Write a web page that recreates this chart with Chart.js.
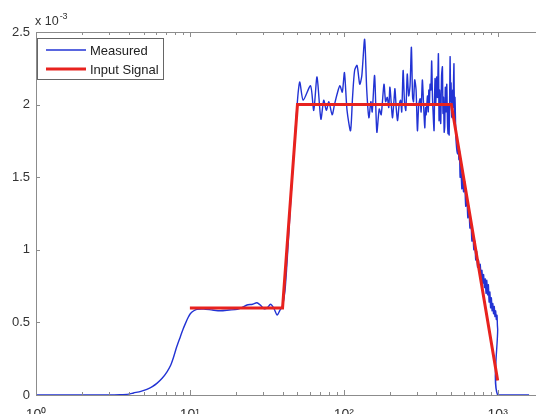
<!DOCTYPE html>
<html><head><meta charset="utf-8">
<script src="https://cdn.jsdelivr.net/npm/chart.js@4/dist/chart.umd.min.js"></script>
<style>
html,body{margin:0;padding:0;overflow:hidden;background:#fff;}
#wrap{position:relative;width:546px;height:420px;}
</style></head><body>
<div id="wrap"><canvas id="c"></canvas></div>
<script>
// ---- data (y values in units of 1e-3) ----
const measuredX = [1, 2, 3, 3.5, 4, 4.3, 4.8, 5.25, 5.7, 6.1, 6.6, 7.1, 7.5, 7.83, 8.2, 8.66, 9, 9.33, 9.7, 10.06,
  10.6, 11.1, 12.3, 14, 15.8, 18, 20.3, 22, 23.5, 25.5, 27.3, 29, 30.2, 31.8, 33.4, 35, 36.9, 38.5, 39.9, 41.5,
  43, 45, 47, 49, 50.5, 51.8, 54.5, 60.8, 63.8, 67, 71, 74.1, 77, 80, 84, 87, 90.6, 94.3, 97.8, 101,
  105, 110.6, 114, 117.6, 122, 127, 131, 136.6, 141, 145.6, 150, 153, 158.6, 164, 170, 175, 182.5, 187, 191.7, 196,
  199.5, 207, 211, 215, 219, 223.7, 229, 234, 238, 243, 248, 253, 258.5, 264, 269.5, 275, 280, 284, 289, 295,
  301, 307, 313.6, 318, 324, 330, 336, 340, 343, 349.7, 354, 357, 360, 363.8, 368, 372.6, 377, 380, 386, 389,
  392, 396, 401.6, 406, 412, 416, 420, 426.5, 432, 437.5, 441, 445, 449, 453, 457, 462, 467, 472, 476, 480,
  484, 488, 491, 495, 498, 502, 506, 510, 513, 517, 520, 524, 528, 535, 541, 548, 555, 560, 565, 570,
  575, 585, 590, 600, 610, 620, 630, 640, 650, 660, 670, 680, 690, 700, 710, 720, 730, 740, 750, 760,
  770, 780, 790, 800, 810, 820, 830, 840, 850, 860, 870, 880, 890, 900, 910, 920, 930, 940, 950, 960,
  970, 980, 990, 996, 1000, 1000, 1600];
const measuredY = [0, 0, 0, 0.002, 0.006, 0.014, 0.025, 0.039, 0.058, 0.08, 0.115, 0.16, 0.205, 0.26, 0.33, 0.40, 0.45, 0.49, 0.53, 0.56,
  0.58, 0.59, 0.592, 0.585, 0.58, 0.585, 0.59, 0.605, 0.62, 0.625, 0.635, 0.615, 0.595, 0.6, 0.625, 0.6, 0.55, 0.585, 0.61, 0.72,
  0.95, 1.3, 1.62, 1.9, 2.08, 2.155, 2.03, 2.13, 1.96, 2.19, 1.9, 2.03, 1.96, 2.02, 1.93, 2.0, 2.075, 2.13, 2.086, 2.22,
  1.96, 1.82, 2.05, 2.235, 2.27, 2.14, 2.2, 2.45, 2.1, 1.91, 2.02, 1.95, 2.2, 1.81, 1.97, 1.93, 2.14, 2.02, 2.05, 1.98,
  2.12, 1.91, 2.0, 2.11, 1.98, 1.89, 2.0, 2.03, 1.95, 2.235, 2.02, 1.96, 2.21, 2.06, 2.13, 2.395, 2.05, 2.02, 2.17, 2.1,
  1.82, 2.0, 2.04, 1.95, 2.17, 2.0, 1.84, 1.98, 1.93, 2.06, 1.95, 2.1, 2.0, 2.14, 2.1, 2.3, 2.05, 1.96, 1.82, 2.05,
  2.18, 2.0, 2.19, 2.05, 2.35, 1.89, 2.1, 1.87, 2.2, 2.26, 1.94, 2.05, 1.81, 1.85, 2.12, 1.95, 2.14, 1.87, 1.8, 2.0,
  1.79, 2.1, 2.33, 2.02, 2.15, 1.92, 1.91, 2.1, 1.98, 2.18, 2.28, 1.9, 2.05, 1.78, 1.7, 1.66, 1.7, 1.62, 1.68, 1.5,
  1.6, 1.42, 1.52, 1.4, 1.47, 1.3, 1.37, 1.22, 1.3, 1.15, 1.21, 1.06, 1.12, 1.0, 1.06, 0.93, 0.99, 0.88, 0.93, 0.85,
  0.9, 0.81, 0.86, 0.77, 0.83, 0.74, 0.8, 0.7, 0.79, 0.69, 0.76, 0.64, 0.71, 0.6, 0.67, 0.58, 0.63, 0.56, 0.61, 0.54,
  0.58, 0.52, 0.55, 0.48, 0.45, 0, 0];
const inputX = [10, 40, 50, 500, 1000];
const inputY = [0.6, 0.6, 2.0, 2.0, 0.1];
const seriesNames = ['Measured', 'Input Signal'];
const xTickValues = [1, 10, 100, 1000];
const xTickLabels = ['10\u2070', '10\u00b9', '10\u00b2', '10\u00b3'];
const yTickValues = [0, 0.5, 1, 1.5, 2, 2.5];
const yTickLabels = ['0', '0.5', '1', '1.5', '2', '2.5'];
const yScaleBase = 'x 10';
const yScaleExp = '-3';
const minorMultipliers = [2, 3, 4, 5, 6, 7, 8, 9];

const FONT = "'Liberation Sans', Arial, sans-serif";
const AXIS = '#8c8c8c';
const BLUE = '#2233d4';
const RED = '#e8221e';

const framePlugin = {
  id: 'frame',
  afterDraw(chart) {
    const {ctx, chartArea: a, scales: {x, y}} = chart;
    ctx.save();
    ctx.strokeStyle = AXIS; ctx.lineWidth = 1;
    ctx.beginPath();
    ctx.moveTo(a.left, a.top + 0.5); ctx.lineTo(a.right, a.top + 0.5);
    ctx.moveTo(a.right - 0.5, a.top); ctx.lineTo(a.right - 0.5, a.bottom);
    xTickValues.forEach(d => {
      [1].concat(minorMultipliers).forEach(m => {
        const v = d * m;
        if (v > x.max) return;
        const px = Math.round(x.getPixelForValue(v)) + 0.5;
        const len = m === 1 ? 5 : 3;
        ctx.moveTo(px, a.bottom); ctx.lineTo(px, a.bottom - len);
        ctx.moveTo(px, a.top); ctx.lineTo(px, a.top + len);
      });
    });
    yTickValues.forEach(v => {
      const py = Math.round(y.getPixelForValue(v)) + 0.5;
      ctx.moveTo(a.left, py); ctx.lineTo(a.left + 4, py);
      ctx.moveTo(a.right, py); ctx.lineTo(a.right - 4, py);
    });
    ctx.stroke();

    // legend
    const lx = a.left + 1, ly = a.top + 6, lw = 127, lh = 42;
    ctx.fillStyle = '#fff';
    ctx.fillRect(lx, ly, lw, lh);
    ctx.strokeStyle = '#666';
    ctx.strokeRect(lx + 0.5, ly + 0.5, lw - 1, lh - 1);
    chart.data.datasets.forEach((ds, i) => {
      const cy = ly + 12 + i * 19;
      ctx.strokeStyle = ds.borderColor; ctx.lineWidth = ds.borderWidth;
      ctx.beginPath(); ctx.moveTo(lx + 9, cy); ctx.lineTo(lx + 49, cy); ctx.stroke();
      ctx.fillStyle = '#222'; ctx.font = '13px ' + FONT;
      ctx.textBaseline = 'middle'; ctx.textAlign = 'left';
      ctx.fillText(ds.label, lx + 53, cy + 1);
    });

    // exponent label
    ctx.fillStyle = '#333'; ctx.textBaseline = 'alphabetic';
    ctx.font = '12.5px ' + FONT;
    ctx.fillText(yScaleBase, a.left - 1, a.top - 7);
    const w = ctx.measureText(yScaleBase).width;
    ctx.font = '9px ' + FONT;
    ctx.fillText(yScaleExp, a.left - 1 + w + 1, a.top - 13);
    ctx.restore();
  }
};

Chart.defaults.font.family = FONT;
Chart.defaults.font.size = 13;
Chart.defaults.color = '#333';

new Chart(document.getElementById('c'), {
  type: 'line',
  data: {
    datasets: [
      { label: seriesNames[0], data: measuredX.map((v, i) => ({x: v, y: measuredY[i]})),
        borderColor: BLUE, borderWidth: 1.4, pointRadius: 0, tension: 0.25, order: 2, fill: false },
      { label: seriesNames[1], data: inputX.map((v, i) => ({x: v, y: inputY[i]})),
        borderColor: RED, borderWidth: 3, pointRadius: 0, tension: 0, order: 1, fill: false }
    ]
  },
  options: {
    responsive: true, maintainAspectRatio: false, animation: false,
    layout: { padding: { top: 32, left: 0, right: 2, bottom: 0 } },
    plugins: { legend: { display: false }, tooltip: { enabled: false } },
    scales: {
      x: {
        type: 'logarithmic', min: 1, max: 2000, position: 'bottom',
        afterBuildTicks: s => { s.ticks = xTickValues.map(v => ({value: v})); },
        afterFit: s => { s.height = 25; },
        ticks: { autoSkip: false, maxRotation: 0, minRotation: 0, padding: 12,
          font: { size: 14 },
          callback: (v, i) => xTickLabels[i] },
        grid: { display: false, drawTicks: false },
        border: { display: true, color: AXIS, width: 1 }
      },
      y: {
        min: 0, max: 2.5,
        afterBuildTicks: s => { s.ticks = yTickValues.map(v => ({value: v})); },
        afterFit: s => { s.width = 36; },
        ticks: { padding: 6, callback: (v, i) => yTickLabels[i] },
        grid: { display: false, drawTicks: false },
        border: { display: true, color: AXIS, width: 1 }
      }
    }
  },
  plugins: [framePlugin]
});
</script>
</body></html>
